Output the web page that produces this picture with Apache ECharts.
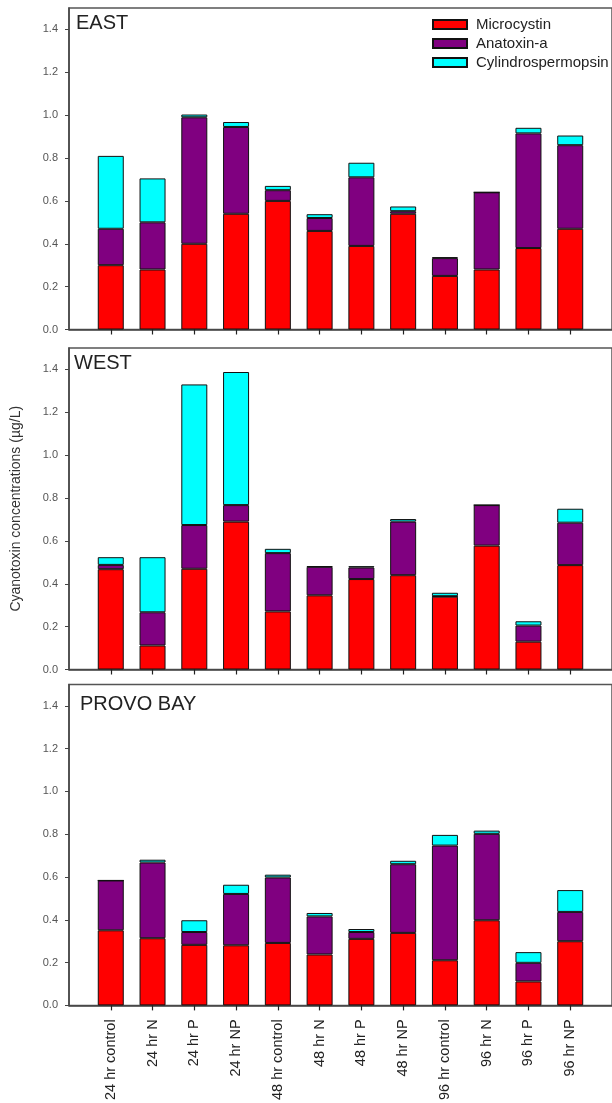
<!DOCTYPE html>
<html>
<head>
<meta charset="utf-8">
<script src="https://cdn.jsdelivr.net/npm/echarts@6/dist/echarts.min.js"></script>
<style>
  html, body { margin: 0; padding: 0; background: #fff; }
  #chart { width: 612px; height: 1103px; }
</style>
</head>
<body>
<div id="chart"></div>
<script>
// Treatments (x axis)
const categories = ['24 hr control', '24 hr N', '24 hr P', '24 hr NP',
                    '48 hr control', '48 hr N', '48 hr P', '48 hr NP',
                    '96 hr control', '96 hr N', '96 hr P', '96 hr NP'];

// Toxin names (stack order, bottom to top)
const toxins = ['Microcystin', 'Anatoxin-a', 'Cylindrospermopsin'];

// EAST site, µg/L
const eastMicrocystin = [0.30, 0.28, 0.40, 0.54, 0.60, 0.46, 0.39, 0.54, 0.25, 0.28, 0.38, 0.47];
const eastAnatoxin    = [0.17, 0.22, 0.59, 0.405, 0.05, 0.06, 0.32, 0.012, 0.083, 0.36, 0.535, 0.39];
const eastCylindro    = [0.34, 0.205, 0.013, 0.023, 0.02, 0.018, 0.068, 0.022, 0.004, 0.0, 0.026, 0.045];

// WEST site, µg/L
const westMicrocystin = [0.468, 0.112, 0.47, 0.69, 0.271, 0.346, 0.422, 0.44, 0.34, 0.578, 0.13, 0.487];
const westAnatoxin    = [0.02, 0.155, 0.204, 0.077, 0.272, 0.133, 0.054, 0.25, 0.002, 0.189, 0.075, 0.198];
const westCylindro    = [0.036, 0.257, 0.656, 0.621, 0.02, 0.003, 0.006, 0.012, 0.016, 0.0, 0.02, 0.065];

// PROVO BAY site, µg/L
const provoMicrocystin = [0.351, 0.314, 0.283, 0.281, 0.292, 0.238, 0.311, 0.339, 0.211, 0.398, 0.112, 0.30];
const provoAnatoxin    = [0.233, 0.354, 0.06, 0.24, 0.306, 0.178, 0.032, 0.321, 0.536, 0.404, 0.087, 0.137];
const provoCylindro    = [0.0, 0.013, 0.055, 0.043, 0.013, 0.016, 0.014, 0.016, 0.05, 0.015, 0.05, 0.102];

// Y axis range and ticks
const yMin = 0, yMax = 1.5;
const yTicks = [0, 0.2, 0.4, 0.6, 0.8, 1.0, 1.2, 1.4];

const sites = [
  { title: 'EAST',      values: [eastMicrocystin, eastAnatoxin, eastCylindro] },
  { title: 'WEST',      values: [westMicrocystin, westAnatoxin, westCylindro] },
  { title: 'PROVO BAY', values: [provoMicrocystin, provoAnatoxin, provoCylindro] }
];

// Panel geometry
const gridTops = [8, 348, 684.5];
const gridHeight = 321.5;
const gridLeft = 69;
const gridWidth = 551;
const titlePos = [[76, 13], [74, 353], [80, 694.5]];

const colors = ['#ff0000', '#800080', '#00ffff'];
const FONT = '"Liberation Sans", Arial, Helvetica, sans-serif';

// one blank slot on each side keeps the bars off the frame edges
const axisCats = [''].concat(categories, ['']);
const isReal = (i) => i > 0 && i <= categories.length;
const pad = (arr) => [null].concat(arr, [null]);

const grids = [], xAxes = [], yAxes = [], series = [], titles = [];

sites.forEach((site, p) => {
  grids.push({
    left: gridLeft, top: gridTops[p], width: gridWidth, height: gridHeight,
    show: true, borderColor: '#555', borderWidth: 1.5, backgroundColor: 'transparent'
  });
  const last = p === sites.length - 1;
  xAxes.push({
    type: 'category', gridIndex: p, data: axisCats, boundaryGap: false,
    axisLine: { show: true, lineStyle: { color: '#444', width: 1.5 } },
    axisTick: { show: true, length: 5, interval: (i) => isReal(i), lineStyle: { color: '#222', width: 1.2 } },
    axisLabel: {
      show: last, rotate: 90, margin: 14, interval: (i) => isReal(i),
      fontSize: 14.5, color: '#222', fontFamily: FONT
    },
    splitLine: { show: false }
  });
  yAxes.push({
    type: 'value', gridIndex: p, min: yMin, max: yMax,
    axisLine: { show: true, lineStyle: { color: '#444', width: 1.5 } },
    axisTick: { show: true, length: 4, customValues: yTicks, lineStyle: { color: '#444' } },
    axisLabel: {
      fontSize: 11, color: '#555', margin: 11, fontFamily: FONT, customValues: yTicks,
      formatter: (v) => v.toFixed(1)
    },
    splitLine: { show: false },
    name: p === 1 ? 'Cyanotoxin concentrations (µg/L)' : '',
    nameLocation: 'middle', nameGap: 46,
    nameTextStyle: { fontSize: 14, color: '#333', fontFamily: FONT }
  });
  site.values.forEach((vals, k) => {
    series.push({
      type: 'bar', name: toxins[k], xAxisIndex: p, yAxisIndex: p,
      stack: 'site' + p, barWidth: 26, data: pad(vals),
      itemStyle: { color: colors[k], borderColor: '#111', borderWidth: 1 },
      emphasis: { disabled: true }
    });
  });
  titles.push({
    text: site.title, left: titlePos[p][0], top: titlePos[p][1], padding: 0,
    textStyle: { fontSize: 20, fontWeight: 'normal', color: '#222', fontFamily: FONT }
  });
});

const chart = echarts.init(document.getElementById('chart'), null, { renderer: 'canvas' });
chart.setOption({
  animation: false,
  backgroundColor: '#fff',
  title: titles,
  legend: {
    data: toxins, orient: 'vertical', left: 432, top: 17, padding: 0,
    itemWidth: 34, itemHeight: 9, itemGap: 4, icon: 'rect',
    textStyle: { fontSize: 15, lineHeight: 15, color: '#222', fontFamily: FONT, padding: [0, 0, 0, 4] }
  },
  grid: grids,
  xAxis: xAxes,
  yAxis: yAxes,
  series: series
});
</script>
</body>
</html>
